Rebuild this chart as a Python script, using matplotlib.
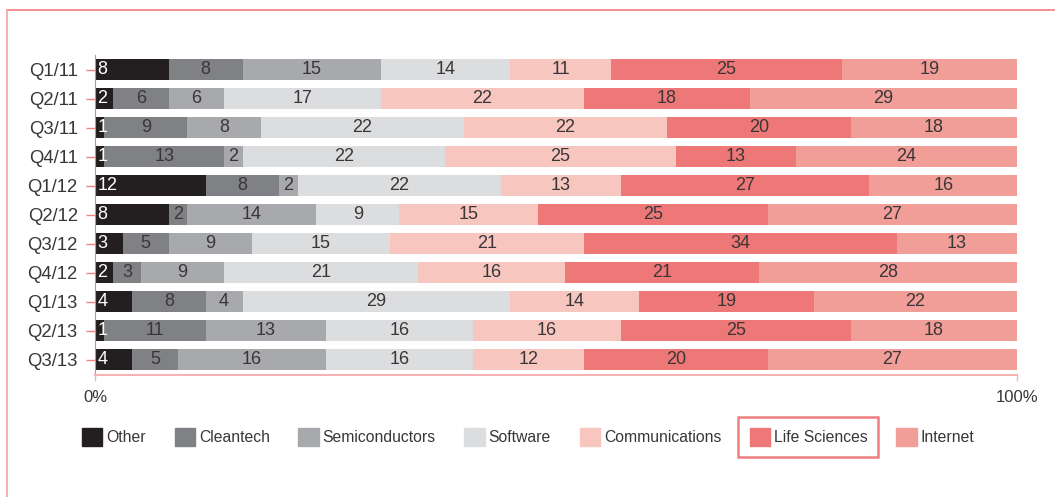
import numpy as np
import matplotlib
matplotlib.use("Agg")
import matplotlib.pyplot as plt
from matplotlib.patches import Rectangle
from matplotlib.lines import Line2D

# quarters, top to bottom
quarters = ["Q1/11", "Q2/11", "Q3/11", "Q4/11", "Q1/12", "Q2/12",
            "Q3/12", "Q4/12", "Q1/13", "Q2/13", "Q3/13"]
sectors = ["Other", "Cleantech", "Semiconductors", "Software",
           "Communications", "Life Sciences", "Internet"]

other          = [8, 2, 1, 1, 12, 8, 3, 2, 4, 1, 4]
cleantech      = [8, 6, 9, 13, 8, 2, 5, 3, 8, 11, 5]
semiconductors = [15, 6, 8, 2, 2, 14, 9, 9, 4, 13, 16]
software       = [14, 17, 22, 22, 22, 9, 15, 21, 29, 16, 16]
communications = [11, 22, 22, 25, 13, 15, 21, 16, 14, 16, 12]
life_sciences  = [25, 18, 20, 13, 27, 25, 34, 21, 19, 25, 20]
internet       = [19, 29, 18, 24, 16, 27, 13, 28, 22, 18, 27]

colors = ["#231f20", "#808184", "#a7a9ac", "#dcdddf", "#f6c6bf", "#ee7877", "#f29e98"]
pink = "#f07f7f"
txt = "#3a3637"

plt.rcParams["font.family"] = ["Liberation Sans", "DejaVu Sans"]

fig = plt.figure(figsize=(10.55, 4.97), dpi=100)
ax = fig.add_axes([95/1055, 1-375/497, (1017-95)/1055, (375-55)/497])

series = [other, cleantech, semiconductors, software, communications, life_sciences, internet]
y = np.arange(len(quarters))
left = np.zeros(len(quarters))
for k, (vals, c) in enumerate(zip(series, colors)):
    vals = np.array(vals, float)
    ax.barh(y, vals, left=left, height=0.72, color=c, linewidth=0)
    for i, v in enumerate(vals):
        if k == 0:
            # "Other" labels sit at the left edge in white
            ax.text(left[i] + 0.25, y[i], f"{int(v)}", ha="left", va="center",
                    color="white", fontsize=13)
        else:
            ax.text(left[i] + v/2, y[i], f"{int(v)}", ha="center", va="center",
                    color=txt, fontsize=13)
    left += vals

ax.set_xlim(0, 100)
ax.set_ylim(10.53, -0.5)
ax.set_yticks(y)
ax.set_yticklabels(quarters, fontsize=13.3, color=txt)
ax.set_xticks([0, 100])
ax.set_xticklabels(["0%", "100%"], fontsize=12, color=txt)
ax.tick_params(axis="y", length=6.5, width=1, color=pink, pad=6)
ax.tick_params(axis="x", length=4, width=1, color="#f6b3b3", pad=7)
for s in ["top", "right"]:
    ax.spines[s].set_visible(False)
ax.spines["left"].set_color(pink)
ax.spines["bottom"].set_color("#f6b3b3")
ax.spines["bottom"].set_linewidth(1.5)

# page frame lines (top + left)
fig.add_artist(Line2D([7/1055, 1], [1-10/497, 1-10/497], color=pink, lw=1.2))
fig.add_artist(Line2D([7/1055, 7/1055], [0, 1-10/497], color="#f5a3a3", lw=1.2))

handles = [Rectangle((0, 0), 1, 1, color=c) for c in colors]
leg = fig.legend(handles, sectors, ncol=7, loc="center left",
                 bbox_to_anchor=(82/1055, 1-437/497), frameon=False,
                 borderpad=0, borderaxespad=0, handlelength=1.3, handleheight=1.3,
                 handletextpad=0.25, columnspacing=1.82,
                 prop={"size": 11.3})
for t in leg.get_texts():
    t.set_color(txt)

# highlight box around "Life Sciences"
fig.canvas.draw()
r = fig.canvas.get_renderer()
hb = leg.legend_handles[5].get_window_extent(r)
tb = leg.get_texts()[5].get_window_extent(r)
x0 = hb.x0 - 12
x1 = tb.x1 + 10
yc = (hb.y0 + hb.y1) / 2
inv = fig.transFigure.inverted()
(fx0, fy0) = inv.transform((x0, yc - 20))
(fx1, fy1) = inv.transform((x1, yc + 20))
fig.add_artist(Rectangle((fx0, fy0), fx1-fx0, fy1-fy0, transform=fig.transFigure,
                         fill=False, edgecolor=pink, lw=1.8))

fig.savefig("out.png", dpi=100)
